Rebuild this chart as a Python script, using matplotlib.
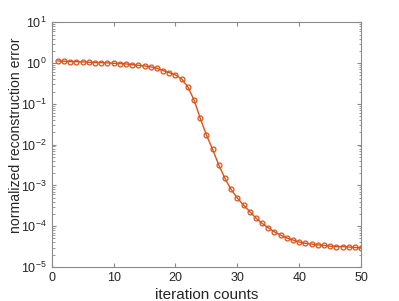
import numpy as np
import matplotlib
matplotlib.use("Agg")
import matplotlib.pyplot as plt
from matplotlib.ticker import FixedLocator, NullFormatter

# iteration index and error (log10 values)
iters = list(range(1, 51))
log_err = [0.052, 0.044, 0.036, 0.036, 0.028, 0.020, 0.012, 0.012, 0.003, -0.005,
           -0.013, -0.021, -0.038, -0.054, -0.070, -0.095, -0.127, -0.185, -0.234, -0.291,
           -0.389, -0.585, -0.904, -1.353, -1.765, -2.115, -2.50, -2.83, -3.10, -3.31,
           -3.48, -3.64, -3.80, -3.93, -4.04, -4.14, -4.22, -4.29, -4.34, -4.39,
           -4.42, -4.44, -4.46, -4.47, -4.49, -4.50, -4.50, -4.51, -4.52, -4.53]
err = [10 ** v for v in log_err]

xticks = [0, 10, 20, 30, 40, 50]
yticks = [1e-5, 1e-4, 1e-3, 1e-2, 1e-1, 1e0, 1e1]
ytick_labels = ['$10^{-5}$', '$10^{-4}$', '$10^{-3}$', '$10^{-2}$',
                '$10^{-1}$', '$10^{0}$', '$10^{1}$']

plt.rcParams['font.family'] = ['Liberation Sans', 'DejaVu Sans']
plt.rcParams['mathtext.fontset'] = 'custom'
plt.rcParams['mathtext.rm'] = 'Liberation Sans'
plt.rcParams['mathtext.default'] = 'regular'

fig = plt.figure(figsize=(3.99, 3.01), dpi=100)
ax = fig.add_axes([0.1296, 0.113, 0.7754, 0.813])

col = '#D95319'
ax.semilogy(iters, err, '-', color=col, lw=1.0, marker='o', ms=3.5,
            mfc='none', mec=col, mew=0.9)

ax.set_xlim(0, 50)
ax.set_ylim(1e-5, 1e1)
ax.set_xticks(xticks)
ax.set_yticks(yticks)
ax.set_yticklabels(ytick_labels)
minors = [m * 10.0 ** e for e in range(-5, 1) for m in range(2, 10)]
ax.yaxis.set_minor_locator(FixedLocator(minors))
ax.yaxis.set_minor_formatter(NullFormatter())

gray = '#8a8a8a'
for s in ax.spines.values():
    s.set_color(gray)
    s.set_linewidth(0.8)
ax.tick_params(which='both', direction='in', top=True, right=True, colors=gray,
               labelcolor='#262626', labelsize=9)
ax.tick_params(which='major', length=3, pad=3.5)
ax.tick_params(which='minor', length=1.8)
ax.tick_params(axis='x', which='minor', bottom=False, top=False)

ax.set_xlabel('iteration counts', fontsize=11, color='#262626')
ax.set_ylabel('normalized reconstruction error', fontsize=10.1, color='#262626')
ax.xaxis.set_label_coords(0.5, -0.084)
ax.yaxis.set_label_coords(-0.093, 0.54)

fig.savefig('out.png', dpi=100)
